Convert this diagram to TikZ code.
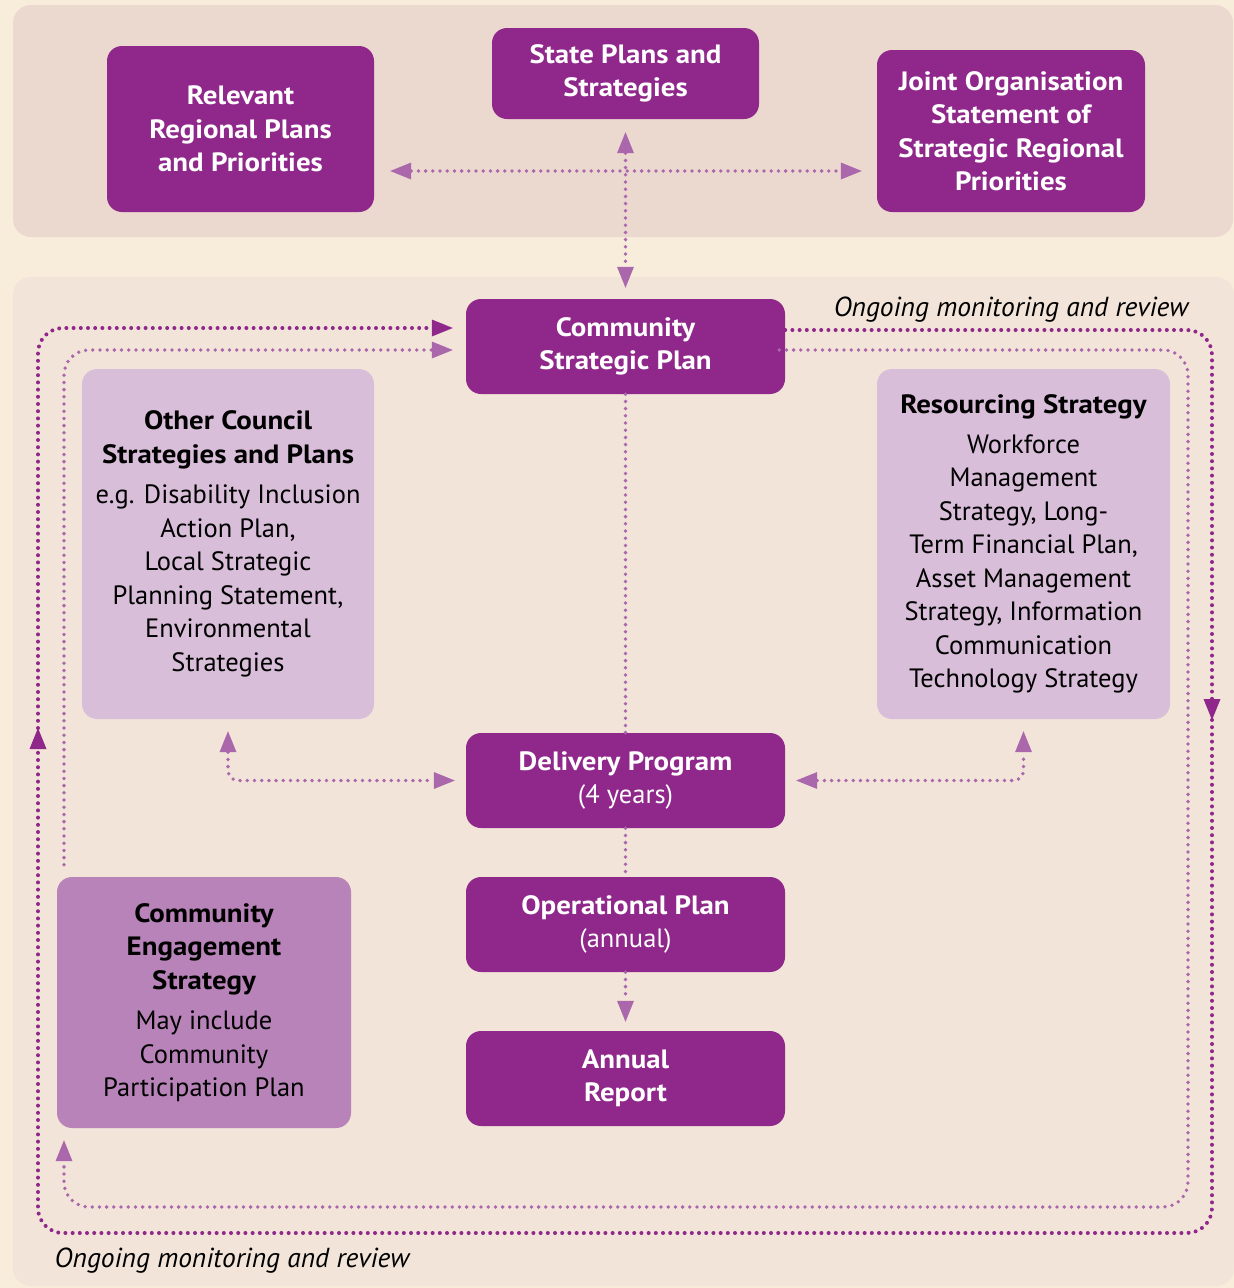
\documentclass[tikz,border=0pt]{standalone}
\usepackage{fontspec}
\setmainfont{PT Sans}[BoldFeatures={FakeStretch=1.09}]
\usetikzlibrary{arrows.meta,calc}
\definecolor{bgc}{HTML}{F8EDDB}
\definecolor{toppan}{HTML}{EBD8CF}
\definecolor{botpan}{HTML}{F2E4D8}
\definecolor{dpurple}{HTML}{8F288A}
\definecolor{lpurple}{HTML}{AB67AC}
\definecolor{lbox}{HTML}{D9BEDA}
\definecolor{mbox}{HTML}{B883B8}
\tikzset{
  darkbox/.style={fill=dpurple, text=white, rounded corners=15pt, align=center,
    inner sep=0pt, font=\fontsize{26.5}{33.5}\selectfont},
  lightbox/.style={fill=lbox, text=black, rounded corners=15pt, align=center,
    inner sep=0pt, font=\fontsize{26.5}{33.5}\selectfont},
  midbox/.style={fill=mbox, text=black, rounded corners=15pt, align=center,
    inner sep=0pt, font=\fontsize{26.5}{33.5}\selectfont},
  dotl/.style={draw=lpurple, line width=3.8pt, line cap=round, dash pattern=on 0pt off 7.2pt},
  dotd/.style={draw=dpurple, line width=4pt, line cap=round, dash pattern=on 0pt off 7.2pt},
  tipl/.style={-{Triangle[length=21pt,width=17pt,fill=lpurple,line width=0pt]}},
  tipd/.style={-{Triangle[length=21pt,width=17pt,fill=dpurple,line width=0pt]}},
  tipll/.style={{Triangle[length=21pt,width=17pt,fill=lpurple,line width=0pt]}-{Triangle[length=21pt,width=17pt,fill=lpurple,line width=0pt]}},
  note/.style={font=\fontsize{27.5}{30}\selectfont\itshape, text=black, inner sep=0pt},
}
\begin{document}
\begin{tikzpicture}[x=1pt,y=-1pt]
\useasboundingbox (0,0) rectangle (1234,1288);
\fill[bgc] (0,0) rectangle (1234,1288);
\fill[toppan, rounded corners=18pt] (13,5) rectangle (1233,237);
\fill[botpan, rounded corners=18pt] (13,277) rectangle (1234,1286);

% top nodes
\node[darkbox, minimum width=267pt, minimum height=166pt] (rel) at (240.5,129) {\bfseries Relevant\\\bfseries Regional Plans\\\bfseries and Priorities};
\node[darkbox, minimum width=267pt, minimum height=91pt] (state) at (625.5,73.5) {\bfseries State Plans and\\\bfseries Strategies};
\node[darkbox, minimum width=268pt, minimum height=162pt] (joint) at (1011,131) {\bfseries Joint Organisation\\\bfseries Statement of\\\bfseries Strategic Regional\\\bfseries Priorities};

% main column
\node[darkbox, minimum width=319pt, minimum height=95pt] (csp) at (625.5,346.5) {\bfseries Community\\\bfseries Strategic Plan};
\node[darkbox, minimum width=319pt, minimum height=95pt] (dp) at (625.5,780.5) {\bfseries Delivery Program\\(4 years)};
\node[darkbox, minimum width=319pt, minimum height=95pt] (op) at (625.5,924.5) {\bfseries Operational Plan\\(annual)};
\node[darkbox, minimum width=319pt, minimum height=95pt] (ar) at (625.5,1078.5) {\bfseries Annual\\\bfseries Report};

% side boxes
\node[lightbox, minimum width=292pt, minimum height=350pt] (other) at (228,544) {\bfseries Other Council\\\bfseries Strategies and Plans\\[7pt]e.g. Disability Inclusion\\Action Plan,\\Local Strategic\\Planning Statement,\\Environmental\\Strategies};
\node[lightbox, minimum width=293pt, minimum height=350pt] (res) at (1023.5,544) {\bfseries Resourcing Strategy\\[6pt]Workforce\\Management\\Strategy, Long-\\Term Financial Plan,\\Asset Management\\Strategy, Information\\Communication\\Technology Strategy};
\node[midbox, minimum width=294pt, minimum height=251pt] (eng) at (204,1002.5) {\bfseries Community\\\bfseries Engagement\\\bfseries Strategy\\[7pt]May include\\Community\\Participation Plan};

% notes
\node[note] (n1) at (1011,310) {Ongoing monitoring and review};
\node[note] (n2) at (232,1261) {Ongoing monitoring and review};

% top connectors
\coordinate (hc) at (626,171);
\draw[dotl, tipll, shorten <=16pt, shorten >=15pt] (rel.east |- hc) -- (joint.west |- hc);
\draw[dotl, tipll, shorten <=13pt, shorten >=11pt] (state.south) -- (csp.north);

% column connectors
\draw[dotl] (csp.south) -- (dp.north);
\draw[dotl] (dp.south) -- (op.north);
\draw[dotl, tipl, shorten >=9pt] (op.south) -- (ar.north);
\draw[dotl, tipll, rounded corners=10pt, shorten <=12pt, shorten >=11pt] (other.south) |- (dp.west);
\draw[dotl, tipll, rounded corners=10pt, shorten <=11pt, shorten >=12pt] (dp.east) -| (res.south);

% outer dark loop
\coordinate (d1) at (1212,330);
\coordinate (d2) at (1212,720);
\coordinate (d3) at (1212,1233);
\coordinate (d4) at (38,1233);
\coordinate (d5) at (38,728);
\coordinate (d6) at (38,328);
\draw[dotd, tipd, rounded corners=25pt] (csp.east |- d1) -- (d1) -- (d2);
\draw[dotd, tipd, rounded corners=25pt] (d2) -- (d3) -- (d4) -- (d5);
\draw[dotd, tipd, rounded corners=25pt, shorten >=13pt] (d5) -- (d6) -- (csp.west |- d6);

% inner light loop
\coordinate (l1) at (1188,350);
\coordinate (l2) at (1188,1207);
\coordinate (l3) at (64,1207);
\coordinate (l4) at (64,350);
\draw[dotl, tipl, rounded corners=25pt, shorten >=12pt] ([xshift=-6pt]csp.east |- l1) -- (l1) -- (l2) -- (l3) -- (eng.south -| l3);
\draw[dotl, tipl, rounded corners=25pt, shorten <=12pt, shorten >=13pt] (eng.north -| l4) -- (l4) -- (csp.west |- l4);
\end{tikzpicture}
\end{document}
